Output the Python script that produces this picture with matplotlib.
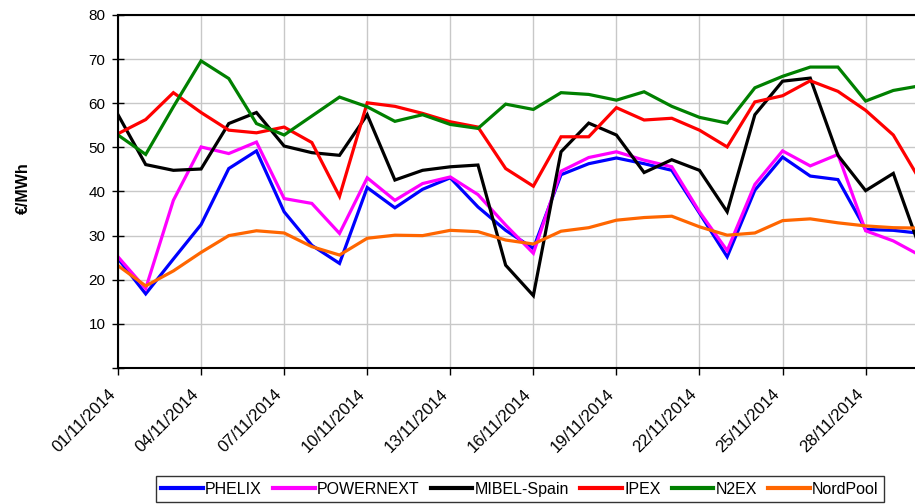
import matplotlib
matplotlib.use("Agg")
import matplotlib.pyplot as plt
import matplotlib.dates as mdates
import matplotlib.transforms as mtransforms
import pandas as pd

dates = pd.date_range("2014-11-01", "2014-11-30", freq="D")

phelix = [24.8, 16.8, 24.7, 32.5, 45.2, 49.2, 35.4, 27.8, 23.7, 40.9,
          36.3, 40.5, 43.1, 36.5, 31.2, 27.1, 43.8, 46.3, 47.6, 46.3,
          44.8, 35.1, 25.2, 40.3, 47.8, 43.5, 42.7, 31.4, 31.2, 30.5]
powernext = [25.2, 18.0, 38.0, 50.1, 48.6, 51.2, 38.4, 37.3, 30.5, 43.1,
             38.0, 41.8, 43.3, 39.3, 32.4, 26.0, 44.6, 47.7, 49.0, 47.1,
             45.6, 35.4, 26.6, 41.6, 49.2, 45.8, 48.4, 31.1, 28.8, 25.4]
mibel = [57.4, 46.1, 44.8, 45.1, 55.4, 57.9, 50.3, 48.8, 48.2, 57.4,
         42.6, 44.8, 45.6, 46.0, 23.3, 16.4, 49.0, 55.5, 52.8, 44.3,
         47.2, 44.8, 35.4, 57.4, 65.0, 65.7, 48.2, 40.2, 44.1, 26.5]
ipex = [53.1, 56.3, 62.4, 57.9, 53.9, 53.3, 54.6, 51.1, 38.9, 60.1,
        59.3, 57.7, 55.8, 54.6, 45.2, 41.2, 52.4, 52.4, 59.0, 56.2,
        56.6, 53.9, 50.1, 60.3, 61.7, 65.1, 62.7, 58.4, 52.8, 42.2]
n2ex = [52.8, 48.4, 59.2, 69.6, 65.6, 55.4, 52.8, 57.1, 61.4, 59.2,
        55.9, 57.4, 55.2, 54.3, 59.8, 58.6, 62.4, 62.0, 60.7, 62.6,
        59.3, 56.8, 55.5, 63.5, 66.1, 68.2, 68.2, 60.5, 62.9, 64.0]
nordpool = [23.2, 18.6, 22.0, 26.2, 30.0, 31.1, 30.6, 27.5, 25.6, 29.4,
            30.1, 30.0, 31.2, 30.9, 29.0, 28.1, 31.0, 31.8, 33.5, 34.1,
            34.4, 32.0, 30.1, 30.6, 33.4, 33.8, 32.9, 32.2, 31.8, 31.7]

series_names = ["PHELIX", "POWERNEXT", "MIBEL-Spain", "IPEX", "N2EX", "NordPool"]
series_values = [phelix, powernext, mibel, ipex, n2ex, nordpool]
series_colors = ["#0000FF", "#FF00FF", "#000000", "#FF0000", "#008000", "#FF6600"]

plt.rcParams["font.family"] = ["Liberation Sans", "DejaVu Sans"]

W, H = 915, 504
fig = plt.figure(figsize=(W / 100, H / 100), dpi=100)
left, right, top, bottom = 118, 921, 15, 368
ax = fig.add_axes([left / W, 1 - bottom / H, (right - left) / W, (bottom - top) / H])

for name, vals, col in zip(series_names, series_values, series_colors):
    ax.plot(dates, vals, color=col, lw=2.3, label=name, solid_joinstyle="miter")

ax.set_ylim(0, 80)
ax.set_yticks(range(0, 81, 10))
ax.set_yticklabels([""] + [str(v) for v in range(10, 81, 10)])
ax.set_xlim(dates[0], dates[-1])
ax.set_xticks(dates[::3])
ax.xaxis.set_major_formatter(mdates.DateFormatter("%d/%m/%Y"))

ax.grid(True, color="#c8c8c8", lw=1)
ax.set_axisbelow(True)
for s in ax.spines.values():
    s.set_color("#000000")
    s.set_linewidth(1.5)
ax.tick_params(axis="y", direction="inout", length=8, width=1, labelsize=11, pad=5)
ax.tick_params(axis="x", direction="out", length=5, width=1, labelsize=12, pad=12)

offset = mtransforms.ScaledTranslation(-5 / 100, 0, fig.dpi_scale_trans)
for lab in ax.get_xticklabels():
    lab.set_rotation(45)
    lab.set_ha("right")
    lab.set_va("center")
    lab.set_rotation_mode("anchor")
    lab.set_transform(lab.get_transform() + offset)

fig.text(23 / W, 1 - 188 / H, "€/MWh", rotation=90, fontsize=11.5,
         fontweight="bold", ha="center", va="center")

leg = fig.legend(loc="upper center", bbox_to_anchor=(520 / W, 1 - 476 / H),
                 ncol=6, frameon=True, fancybox=False, fontsize=11.5,
                 handlelength=2.6, handletextpad=0.15, columnspacing=0.7,
                 borderpad=0.35, borderaxespad=0)
leg.get_frame().set_edgecolor("#000000")
leg.get_frame().set_linewidth(1.0)
for lh in leg.get_lines():
    lh.set_linewidth(3)

fig.savefig("out.png", dpi=100)
